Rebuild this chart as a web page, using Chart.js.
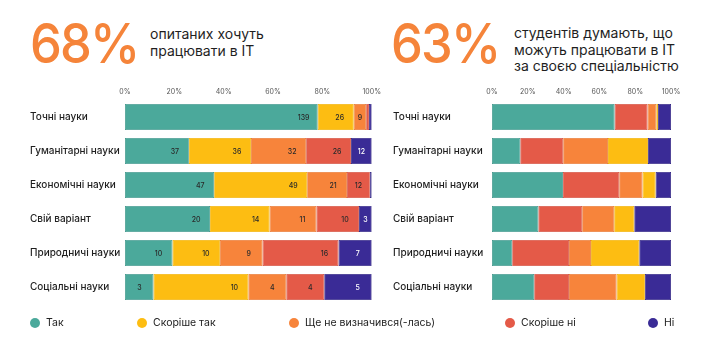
<!DOCTYPE html>
<html>
<head>
<meta charset="utf-8">
<script src="https://cdn.jsdelivr.net/npm/chart.js@4"></script>
<style>
  html, body { margin:0; padding:0; background:#fff; }
  body { width:720px; height:358px; position:relative; overflow:hidden; font-family: Inter, "Noto Sans", sans-serif; color:#222; }
  .big { position:absolute; font-size:55px; font-weight:500; color:#F5843A; letter-spacing:-2px; line-height:1; transform:scaleX(0.92); transform-origin:left top; }
  .sub { position:absolute; font-size:14px; line-height:16.5px; color:#1f1f1f; }
  canvas { position:absolute; top:0; }
  .leg { position:absolute; top:316px; font-size:10.5px; color:#222; display:flex; align-items:center; white-space:nowrap; }
  .leg i { display:inline-block; width:10px; height:10px; border-radius:50%; margin-right:6px; }
</style>
</head>
<body>
<div class="big" style="left:30px;top:16px;">68%</div>
<div class="sub" style="left:150px;top:26px;">опитаних хочуть<br>працювати в ІТ</div>
<div class="big" style="left:391px;top:16px;">63%</div>
<div class="sub" style="left:514px;top:25px;">студентів думають, що<br>можуть працювати в ІТ<br>за своєю спеціальністю</div>
<canvas id="c1" width="385" height="358" style="left:0;"></canvas>
<canvas id="c2" width="340" height="358" style="left:380px;"></canvas>
<div id="legend"></div>
<script>
const categories = ["Точні науки","Гуманітарні науки","Економічні науки","Свій варіант","Природничі науки","Соціальні науки"];
const tickValues = [0,20,40,60,80,100];

// Left chart: counts of answers
const leftYes      = [139,37,47,20,10,3];
const leftRatherYes= [26,36,49,14,10,10];
const leftUndecided= [9,32,21,11,9,4];
const leftRatherNo = [2,26,12,10,16,4];
const leftNo       = [2,12,1,3,7,5];

// Right chart: shares (%), stack order as drawn
const rightYes      = [68.5,15.8,39.6,25.9,11.3,23.6];
const rightRatherNo = [18.4,24.0,31.5,24.5,31.7,19.4];
const rightUndecided= [4.9,25.0,13.0,17.9,12.3,26.6];
const rightRatherYes= [0.9,22.3,7.3,11.2,27.0,15.8];
const rightNo       = [7.3,12.9,8.6,20.5,17.7,14.6];

const legendLabels = ["Так","Скоріше так","Ще не визначився(-лась)","Скоріше ні","Ні"];
const COL = { yes:"#4BA99B", ratherYes:"#FDBD12", undecided:"#F7843B", ratherNo:"#E45A48", no:"#3A2B96" };
const BORDER = { yes:"#3f978a", ratherYes:"#f0b000", undecided:"#e87630", ratherNo:"#d24d3d", no:"#2e2180" };

const FONT = 'Inter, "Noto Sans", sans-serif';

const leftSeries = [
  {label:legendLabels[0], raw:leftYes, key:"yes"},
  {label:legendLabels[1], raw:leftRatherYes, key:"ratherYes"},
  {label:legendLabels[2], raw:leftUndecided, key:"undecided"},
  {label:legendLabels[3], raw:leftRatherNo, key:"ratherNo"},
  {label:legendLabels[4], raw:leftNo, key:"no"},
];
const totals = categories.map((_, i) => leftSeries.reduce((s, d) => s + d.raw[i], 0));

const rightSeries = [
  {label:legendLabels[0], data:rightYes, key:"yes"},
  {label:legendLabels[3], data:rightRatherNo, key:"ratherNo"},
  {label:legendLabels[2], data:rightUndecided, key:"undecided"},
  {label:legendLabels[1], data:rightRatherYes, key:"ratherYes"},
  {label:legendLabels[4], data:rightNo, key:"no"},
];

const valueLabels = {
  id:'valueLabels',
  afterDatasetsDraw(chart) {
    if (!chart.options.plugins.valueLabels || !chart.options.plugins.valueLabels.show) return;
    const ctx = chart.ctx;
    ctx.save();
    ctx.font = '500 7px ' + FONT;
    ctx.textAlign = 'center';
    ctx.textBaseline = 'middle';
    chart.data.datasets.forEach((ds, di) => {
      const meta = chart.getDatasetMeta(di);
      meta.data.forEach((bar, i) => {
        const w = bar.x - bar.base;
        if (w < 9) return;
        const txt = String(ds.raw[i]);
        const x = w > 28 ? bar.x - 14 : (bar.x + bar.base) / 2;
        ctx.fillStyle = ds.key === 'no' ? '#ffffff' : '#2a2a2a';
        ctx.fillText(txt, x, bar.y + 0.5);
      });
    });
    ctx.restore();
  }
};

function makeOptions(padLeft, padRight, yWidth, showValues) {
  return {
    responsive:false,
    animation:false,
    indexAxis:'y',
    layout:{ padding:{ left:padLeft, right:padRight, top:84, bottom:54 } },
    plugins:{ legend:{display:false}, tooltip:{enabled:false}, valueLabels:{show:showValues} },
    scales:{
      x:{
        stacked:true, min:0, max:100, position:'top',
        afterFit(s){ s.height = 16; },
        afterBuildTicks(s){ s.ticks = tickValues.map(v => ({value:v})); },
        grid:{display:false, drawTicks:false}, border:{display:false},
        ticks:{ padding:4, color:'#555', font:{size:7, family:FONT}, callback:v => v + '%', maxRotation:0, autoSkip:false }
      },
      y:{
        stacked:true,
        afterFit(s){ s.width = yWidth; },
        grid:{display:false, drawTicks:false}, border:{display:false},
        ticks:{ crossAlign:'far', padding:0, color:'#1f1f1f', font:{size:10, weight:'500', family:FONT} }
      }
    },
    datasets:{ bar:{ categoryPercentage:1, barPercentage:0.765 } }
  };
}

new Chart(document.getElementById('c1'), {
  type:'bar',
  data:{
    labels:categories,
    datasets:leftSeries.map(s => ({
      label:s.label, key:s.key, raw:s.raw,
      data:s.raw.map((v, i) => v / totals[i] * 100),
      backgroundColor:COL[s.key], borderColor:BORDER[s.key], borderWidth:0.8, borderSkipped:false
    }))
  },
  options:makeOptions(30, 12, 95, true),
  plugins:[valueLabels]
});

new Chart(document.getElementById('c2'), {
  type:'bar',
  data:{
    labels:categories,
    datasets:rightSeries.map(s => ({
      label:s.label, key:s.key,
      data:s.data,
      backgroundColor:COL[s.key], borderColor:BORDER[s.key], borderWidth:0.8, borderSkipped:false
    }))
  },
  options:makeOptions(13, 49, 99, false),
  plugins:[valueLabels]
});

// Legend
const legendKeys = ["yes","ratherYes","undecided","ratherNo","no"];
const legendX = [30, 137, 289, 505, 648];
const lg = document.getElementById('legend');
legendLabels.forEach((t, i) => {
  const d = document.createElement('div');
  d.className = 'leg';
  d.style.left = legendX[i] + 'px';
  d.innerHTML = '<i style="background:' + COL[legendKeys[i]] + '"></i>' + t;
  lg.appendChild(d);
});
</script>
</body>
</html>
